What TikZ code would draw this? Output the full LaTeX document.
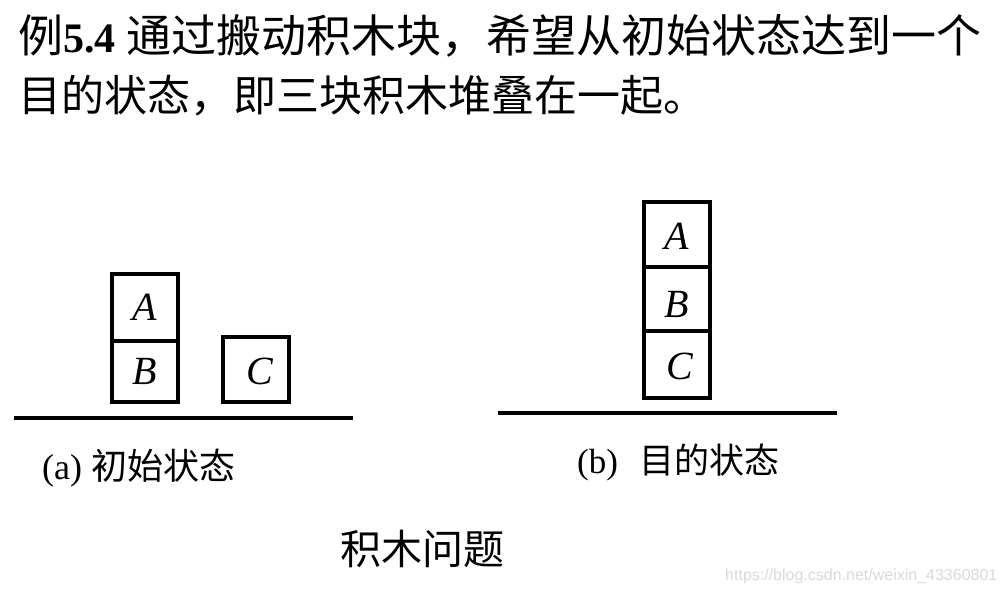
\documentclass[tikz,border=0pt]{standalone}
\usepackage{fontspec}
\setmainfont{Liberation Serif}
\newfontfamily\cjk{Noto Sans CJK SC}
\newfontfamily\wmfont{Liberation Sans}
\begin{document}
\begin{tikzpicture}[x=1pt,y=-1pt,
  blk/.style={draw, line width=4pt, inner sep=0pt, minimum width=66pt,
    font=\fontsize{40}{40}\selectfont\itshape},
  ground/.style={line width=4pt},
  txt/.style={inner sep=0pt, anchor=base west}]
\useasboundingbox[fill=white] (0,0) rectangle (1003,593);
% title
\node[txt, font=\fontsize{45}{45}\selectfont] (t1) at (18,53)
  {{\cjk 例}{\fontsize{42}{42}\selectfont\bfseries 5.4} {\cjk 通过搬动积木块，希望从初始状态达到一个}};
\node[txt, font=\fontsize{43}{43}\selectfont\cjk] (t2) at (18,112)
  {目的状态，即三块积木堆叠在一起。};
% initial state
\node[blk, minimum height=67pt] (la) at (144.5,307.5) {A};
\node[blk, minimum height=61pt] (lb) at (144.5,371.5) {B};
\node[blk, minimum height=65pt] (lc) at (256,369.5) {\hspace*{7pt}\raisebox{-1.5pt}[\height][\depth]{C}};
\draw[ground] (14,418) -- (353,418);
% goal state
\node[blk, minimum height=65pt] (ra) at (677,234.5) {\raisebox{-1.5pt}[\height][\depth]{A}};
\node[blk, minimum height=64pt] (rb) at (677,299) {\raisebox{-5pt}[\height][\depth]{B}};
\node[blk, minimum height=67pt] (rc) at (677,364.5) {\hspace*{6pt}\raisebox{-1.5pt}[\height][\depth]{C}};
\draw[ground] (498,413) -- (837,413);
% captions
\node[txt, font=\fontsize{36}{36}\selectfont] (capa) at (42,479)
  {(a) {\cjk 初始状态}};
\node[txt, font=\fontsize{35}{35}\selectfont] (capb) at (577,473)
  {(b)\hspace{21pt}{\cjk 目的状态}};
\node[txt, font=\fontsize{41}{41}\selectfont\cjk] (cap) at (340,564)
  {积木问题};
\node[txt, font=\fontsize{16}{16}\selectfont\wmfont, text=black!15] (wm) at (725,580)
  {https://blog.csdn.net/weixin\_43360801};
\end{tikzpicture}
\end{document}
